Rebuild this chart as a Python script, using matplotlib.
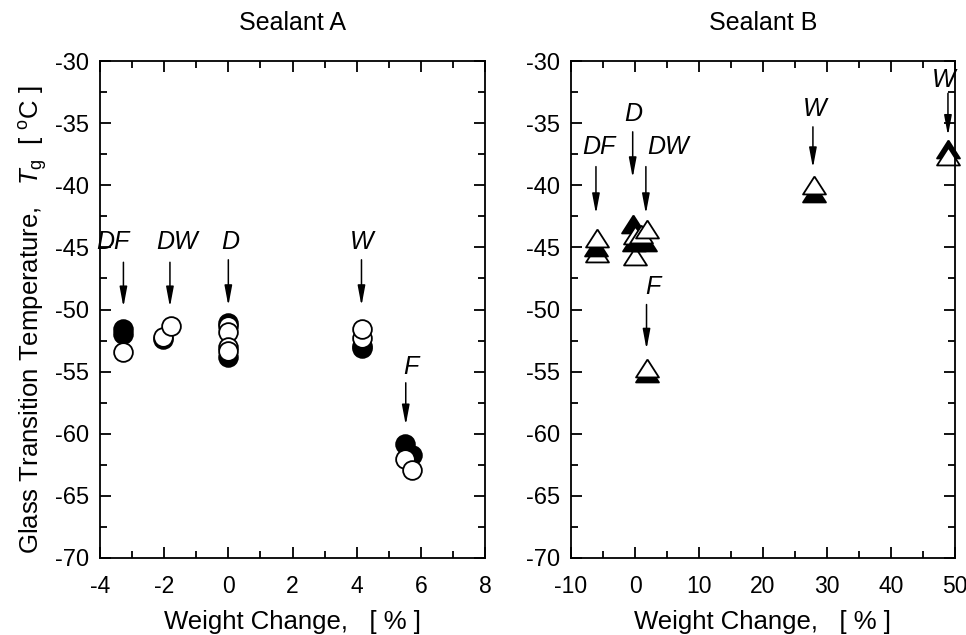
import matplotlib

matplotlib.use("Agg")
import matplotlib.pyplot as plt
from matplotlib.ticker import MultipleLocator

plt.rcParams.update({
    "font.family": ["Liberation Sans", "DejaVu Sans"],
    "font.size": 16,
    "mathtext.fontset": "custom",
    "mathtext.rm": "Liberation Sans",
    "mathtext.it": "Liberation Sans:italic",
    "axes.linewidth": 1.3,
    "axes.unicode_minus": False,
})

# Sealant A (circles), in draw order
A_x = [-3.27, -3.27, -3.27, -2.05, -2.05, -1.80,
       0.0, 0.0, 0.0, 0.0, 0.0, 0.0,
       4.18, 4.18, 4.18, 4.18,
       5.50, 5.71, 5.50, 5.71]
A_y = [-51.6, -52.0, -53.4, -52.35, -52.2, -51.3,
       -51.1, -53.8, -51.35, -51.8, -53.0, -53.35,
       -53.1, -52.9, -52.3, -51.55,
       -60.8, -61.7, -62.0, -62.9]
A_filled = [1, 1, 0, 1, 0, 0,
            1, 1, 0, 0, 0, 0,
            1, 1, 0, 0,
            1, 1, 0, 0]

# Sealant B (triangles), in draw order
B_x = [-6.0, -6.1, -6.0,
       0.0, -0.1, 1.6, -0.3, 0.0, 1.0, 1.8,
       1.8, 1.8,
       28.0, 28.0,
       48.9, 48.9]
B_y = [-45.45, -45.0, -44.25,
       -45.7, -44.55, -44.6, -43.1, -44.0, -43.9, -43.55,
       -55.1, -54.7,
       -40.65, -40.0,
       -37.1, -37.65]
B_filled = [0, 1, 0,
            0, 1, 1, 1, 0, 0, 0,
            1, 0,
            1, 0,
            1, 0]

# arrow annotations: label, label position, arrow x, arrow start y, arrow tip y
A_labels = ["DF", "DW", "D", "W", "F"]
A_lab_x = [-3.6, -1.6, 0.05, 4.15, 5.7]
A_lab_y = [-44.6, -44.6, -44.6, -44.6, -54.6]
A_arr_x = [-3.27, -1.82, 0.0, 4.15, 5.53]
A_arr_y0 = [-46.2, -46.2, -46.0, -46.0, -55.9]
A_arr_y1 = [-49.8, -49.8, -49.7, -49.7, -59.3]

B_labels = ["DF", "D", "DW", "F", "W", "W"]
B_lab_x = [-5.6, -0.3, 5.2, 2.8, 28.1, 48.3]
B_lab_y = [-36.9, -34.3, -36.9, -48.2, -33.9, -31.5]
B_arr_x = [-6.1, -0.36, 1.7, 1.8, 27.8, 48.9]
B_arr_y0 = [-38.5, -35.7, -38.5, -49.6, -35.3, -32.6]
B_arr_y1 = [-42.3, -39.4, -42.3, -53.2, -38.6, -36.0]

TRI = [(0, 0.78), (-1, -0.78), (1, -0.78), (0, 0.78)]

fig = plt.figure(figsize=(9.66, 6.35), dpi=100)
axA = fig.add_axes([100 / 966, 1 - 558 / 635, 385 / 966, 497 / 635])
axB = fig.add_axes([571 / 966, 1 - 558 / 635, 384 / 966, 497 / 635])


def draw_points(ax, xs, ys, filled, marker, ms):
    for x, y, fl in zip(xs, ys, filled):
        ax.plot([x], [y], ls="none", marker=marker, ms=ms, mec="k", mew=1.3,
                mfc="k" if fl else "white", clip_on=False)


def draw_arrows(ax, labels, lx, ly, ax_, y0, y1):
    for lab, tx, ty, x, a, b in zip(labels, lx, ly, ax_, y0, y1):
        ax.text(tx, ty, lab, style="italic", fontsize=18, ha="center", va="center")
        ax.annotate("", xy=(x, b), xytext=(x, a),
                    arrowprops=dict(arrowstyle="-|>,head_length=0.8,head_width=0.15",
                                    color="k", lw=1.1, mutation_scale=15,
                                    shrinkA=0, shrinkB=0))


draw_points(axA, A_x, A_y, A_filled, "o", 13.5)
draw_arrows(axA, A_labels, A_lab_x, A_lab_y, A_arr_x, A_arr_y0, A_arr_y1)
draw_points(axB, B_x, B_y, B_filled, TRI, 16.5)
draw_arrows(axB, B_labels, B_lab_x, B_lab_y, B_arr_x, B_arr_y0, B_arr_y1)

axA.set_xlim(-4, 8)
axA.xaxis.set_major_locator(MultipleLocator(2))
axA.xaxis.set_minor_locator(MultipleLocator(1))
axB.set_xlim(-10, 50)
axB.xaxis.set_major_locator(MultipleLocator(10))
axB.xaxis.set_minor_locator(MultipleLocator(5))

for ax, title in ((axA, "Sealant A"), (axB, "Sealant B")):
    ax.set_ylim(-70, -30)
    ax.yaxis.set_major_locator(MultipleLocator(5))
    ax.yaxis.set_minor_locator(MultipleLocator(2.5))
    ax.tick_params(which="both", direction="in", top=True, right=True, width=1.3)
    ax.tick_params(axis="y", labelsize=17, pad=8)
    ax.tick_params(axis="x", labelsize=16.5, pad=12)
    ax.tick_params(which="major", length=8)
    ax.tick_params(which="minor", length=5)
    ax.set_title(title, fontsize=18, pad=22)
    ax.set_xlabel("Weight Change,   [ % ]", fontsize=18.5, va="top")
    ax.xaxis.set_label_coords(0.5, -0.105)

axA.set_ylabel(r"Glass Transition Temperature,   $\it{T}_{\rm g}$  [ $^{\rm o}$C ]",
               fontsize=18.5)
axA.yaxis.set_label_coords(-0.13, 0.48)

fig.savefig("out.png", dpi=100)
